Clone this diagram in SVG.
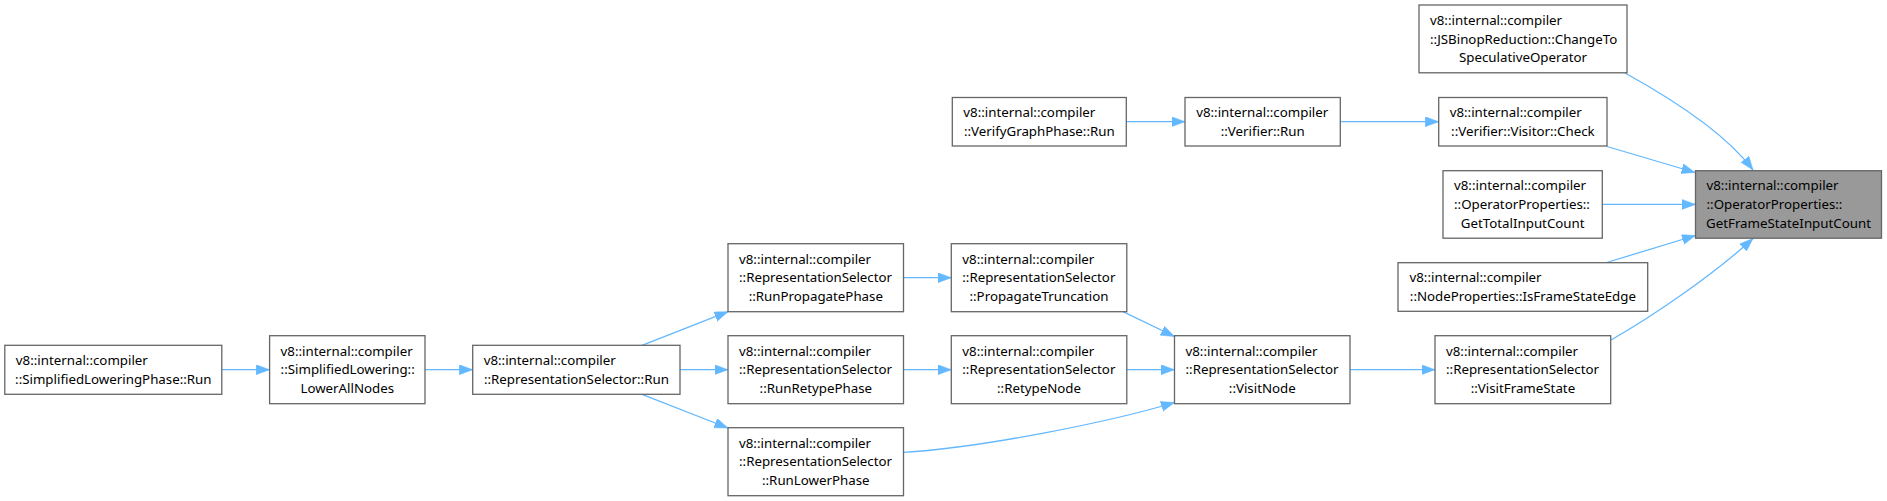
<svg xmlns="http://www.w3.org/2000/svg" width="1887" height="501" viewBox="0 0 1887 501">
<style>
.node rect{fill:#ffffff;stroke:#666666;stroke-width:1.3}
.node.target rect{fill:#999999}
text{font-family:"Noto Sans","Open Sans",sans-serif;font-size:13.3px;fill:#000000}
.s{text-anchor:start}
.c{text-anchor:middle}
.edge{fill:none;stroke:#63b8ff;stroke-width:1.3;marker-end:url(#arr)}
</style>
<defs>
<marker id="arr" markerUnits="userSpaceOnUse" markerWidth="14" markerHeight="11" refX="13.5" refY="5" orient="auto">
<path d="M0,0 L13.5,5 L0,10 Z" fill="#63b8ff" stroke="#63b8ff" stroke-width="0.5"/>
</marker>
</defs>
<rect width="1887" height="501" fill="#ffffff"/>
<g id="connectors">
<path class="edge" d="M1625,73 C1665,95 1723,130 1753,170"/>
<path class="edge" d="M1607,146.5 L1695,172.5"/>
<path class="edge" d="M1602.3,204.4 L1695.5,204.4"/>
<path class="edge" d="M1606.7,262.5 L1695.5,235.5"/>
<path class="edge" d="M1611,340 C1650,318 1712,276 1753,238.5"/>
<path class="edge" d="M1340.3,121.7 L1438.7,121.7"/>
<path class="edge" d="M1126.3,121.7 L1185,121.7"/>
<path class="edge" d="M1350,369.7 L1435,369.7"/>
<path class="edge" d="M1123,311.7 L1174.5,336.5"/>
<path class="edge" d="M1126.8,369.7 L1174.5,369.7"/>
<path class="edge" d="M903.6,452.3 C980,448 1110,422 1174.5,402.5"/>
<path class="edge" d="M903.5,277.7 L951.3,277.7"/>
<path class="edge" d="M903.5,369.7 L951.3,369.7"/>
<path class="edge" d="M642,345.3 L728,311.7"/>
<path class="edge" d="M680,369.7 L728,369.7"/>
<path class="edge" d="M642,394.3 L728,428"/>
<path class="edge" d="M425,369.7 L472.7,369.7"/>
<path class="edge" d="M221.8,369.7 L269.6,369.7"/>
</g>
<g id="n_target" class="node target">
<rect x="1695.5" y="170.7" width="186" height="67.5"/>
<text class="s" x="1706.5" y="190.2">v8::internal::compiler</text>
<text class="s" x="1706.5" y="209">::OperatorProperties::</text>
<text class="c" x="1788.5" y="227.8">GetFrameStateInputCount</text>
</g>
<g id="n_jsbinop" class="node">
<rect x="1419" y="5" width="208" height="67.8"/>
<text class="s" x="1430" y="24.7">v8::internal::compiler</text>
<text class="s" x="1430" y="43.5">::JSBinopReduction::ChangeTo</text>
<text class="c" x="1523" y="62.3">SpeculativeOperator</text>
</g>
<g id="n_check" class="node">
<rect x="1438.7" y="97.5" width="168.3" height="48.5"/>
<text class="s" x="1449.7" y="116.9">v8::internal::compiler</text>
<text class="c" x="1522.9" y="135.7">::Verifier::Visitor::Check</text>
</g>
<g id="n_gettotal" class="node">
<rect x="1443" y="170.7" width="159.3" height="67.5"/>
<text class="s" x="1454" y="190.2">v8::internal::compiler</text>
<text class="s" x="1454" y="209">::OperatorProperties::</text>
<text class="c" x="1522.7" y="227.8">GetTotalInputCount</text>
</g>
<g id="n_isframestateedge" class="node">
<rect x="1398" y="262.7" width="249.7" height="48.6"/>
<text class="s" x="1409.5" y="282.2">v8::internal::compiler</text>
<text class="c" x="1522.9" y="301">::NodeProperties::IsFrameStateEdge</text>
</g>
<g id="n_visitframestate" class="node">
<rect x="1435" y="335.7" width="175.7" height="68"/>
<text class="s" x="1446" y="355.5">v8::internal::compiler</text>
<text class="s" x="1446" y="374.3">::RepresentationSelector</text>
<text class="c" x="1522.9" y="393.1">::VisitFrameState</text>
</g>
<g id="n_verifygraphphase" class="node">
<rect x="952.3" y="97.5" width="174" height="48.5"/>
<text class="s" x="963.3" y="116.9">v8::internal::compiler</text>
<text class="c" x="1039.3" y="135.7">::VerifyGraphPhase::Run</text>
</g>
<g id="n_verifier_run" class="node">
<rect x="1185" y="97.5" width="155.3" height="48.5"/>
<text class="s" x="1196.2" y="116.9">v8::internal::compiler</text>
<text class="c" x="1262.7" y="135.7">::Verifier::Run</text>
</g>
<g id="n_visitnode" class="node">
<rect x="1174.5" y="335.7" width="175.5" height="68"/>
<text class="s" x="1185.5" y="355.5">v8::internal::compiler</text>
<text class="s" x="1185.5" y="374.3">::RepresentationSelector</text>
<text class="c" x="1262.3" y="393.1">::VisitNode</text>
</g>
<g id="n_propagatetruncation" class="node">
<rect x="951.3" y="243.7" width="175.5" height="68"/>
<text class="s" x="962.3" y="263.5">v8::internal::compiler</text>
<text class="s" x="962.3" y="282.3">::RepresentationSelector</text>
<text class="c" x="1039" y="301.1">::PropagateTruncation</text>
</g>
<g id="n_retypenode" class="node">
<rect x="951.3" y="335.7" width="175.5" height="68"/>
<text class="s" x="962.3" y="355.5">v8::internal::compiler</text>
<text class="s" x="962.3" y="374.3">::RepresentationSelector</text>
<text class="c" x="1039" y="393.1">::RetypeNode</text>
</g>
<g id="n_runpropagatephase" class="node">
<rect x="728" y="243.7" width="175.5" height="68"/>
<text class="s" x="739" y="263.5">v8::internal::compiler</text>
<text class="s" x="739" y="282.3">::RepresentationSelector</text>
<text class="c" x="815.8" y="301.1">::RunPropagatePhase</text>
</g>
<g id="n_runretypephase" class="node">
<rect x="728" y="335.7" width="175.5" height="68"/>
<text class="s" x="739" y="355.5">v8::internal::compiler</text>
<text class="s" x="739" y="374.3">::RepresentationSelector</text>
<text class="c" x="815.8" y="393.1">::RunRetypePhase</text>
</g>
<g id="n_runlowerphase" class="node">
<rect x="728" y="427.7" width="175.5" height="68"/>
<text class="s" x="739" y="447.5">v8::internal::compiler</text>
<text class="s" x="739" y="466.3">::RepresentationSelector</text>
<text class="c" x="815.8" y="485.1">::RunLowerPhase</text>
</g>
<g id="n_repsel_run" class="node">
<rect x="472.7" y="345.3" width="207.3" height="49"/>
<text class="s" x="483.7" y="365">v8::internal::compiler</text>
<text class="c" x="576.4" y="383.8">::RepresentationSelector::Run</text>
</g>
<g id="n_lowerallnodes" class="node">
<rect x="269.6" y="335.7" width="155.4" height="68"/>
<text class="s" x="280.6" y="355.5">v8::internal::compiler</text>
<text class="s" x="280.6" y="374.3">::SimplifiedLowering::</text>
<text class="c" x="347.3" y="393.1">LowerAllNodes</text>
</g>
<g id="n_simplifiedloweringphase_run" class="node">
<rect x="4.8" y="345.3" width="217" height="49"/>
<text class="s" x="15.8" y="365">v8::internal::compiler</text>
<text class="c" x="113.3" y="383.8">::SimplifiedLoweringPhase::Run</text>
</g>
</svg>
